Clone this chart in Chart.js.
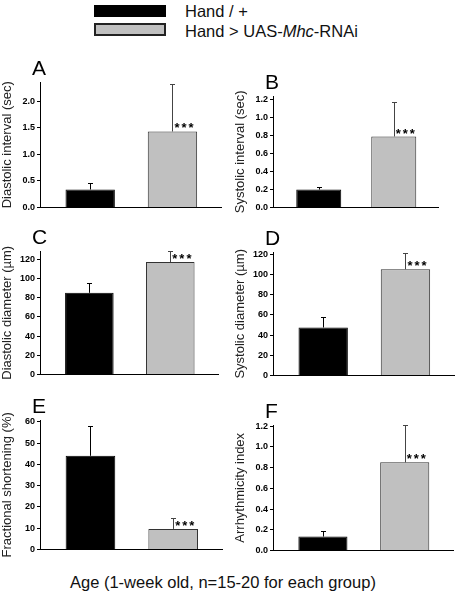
<!DOCTYPE html>
<html>
<head>
<meta charset="utf-8">
<script src="https://cdn.jsdelivr.net/npm/chart.js@4/dist/chart.umd.min.js"></script>
<style>
    body {
        margin: 0;
        width: 457px;
        height: 595px;
        position: relative;
        overflow: hidden;
        background: #fff;
        font-family: Arial, "Liberation Sans", sans-serif;
        color: #111;
    }
    canvas { position: absolute; }
    .swatch { position: absolute; left: 94px; width: 72px; box-sizing: border-box; }
    .legendText { position: absolute; left: 185px; font-size: 16.5px; line-height: 16px; white-space: nowrap; }
    #xLabel { position: absolute; left: 70px; top: 574px; font-size: 16.5px; line-height: 16px; white-space: nowrap; }
</style>
</head>
<body>

<div class="swatch" style="top:5px;height:12px;background:#000;"></div>
<div class="swatch" style="top:23px;height:13px;background:#c0c0c0;border:2px solid #222;"></div>
<div class="legendText" style="top:3px;">Hand / +</div>
<div class="legendText" style="top:23px;">Hand &gt; UAS-<i>Mhc</i>-RNAi</div>

<canvas id="chartA" width="228" height="160" style="left:0;top:55px;"></canvas>
<canvas id="chartB" width="224" height="160" style="left:233px;top:55px;"></canvas>
<canvas id="chartC" width="228" height="162" style="left:0;top:220px;"></canvas>
<canvas id="chartD" width="224" height="163" style="left:233px;top:220px;"></canvas>
<canvas id="chartE" width="228" height="172" style="left:0;top:385px;"></canvas>
<canvas id="chartF" width="224" height="173" style="left:233px;top:385px;"></canvas>

<div id="xLabel">Age (1-week old, n=15-20 for each group)</div>

<script>
// two genotypes, same order in every panel
const groups = ['Hand / +', 'Hand > UAS-Mhc-RNAi'];
const significance = ['', '***'];

const diastolicInterval = [0.34, 1.43];
const diastolicIntervalErr = [0.12, 0.89];
const systolicInterval = [0.20, 0.79];
const systolicIntervalErr = [0.03, 0.38];
const diastolicDiameter = [85, 117];
const diastolicDiameterErr = [10.5, 11];
const systolicDiameter = [47.5, 105];
const systolicDiameterErr = [10.5, 16];
const fractionalShortening = [44, 9.7];
const fractionalShorteningErr = [14, 4.9];
const arrhythmicityIndex = [0.135, 0.85];
const arrhythmicityIndexErr = [0.055, 0.36];

const barFill = ['#000000', '#c0c0c0'];
const barEdge = ['#000000', '#333333'];
const whiskerColor = ['#000000', '#444444'];

const errorBars = {
    id: 'errorBars',
    afterDatasetsDraw(chart) {
        const ctx = chart.ctx;
        const y = chart.scales.y;
        const ds = chart.data.datasets[0];
        chart.getDatasetMeta(0).data.forEach((bar, i) => {
            const x = Math.round(bar.x) + 0.5;
            const top = Math.round(y.getPixelForValue(ds.data[i].y + ds.err[i])) + 0.5;
            ctx.save();
            ctx.strokeStyle = whiskerColor[i];
            ctx.lineWidth = 1;
            ctx.beginPath();
            ctx.moveTo(x, bar.y);
            ctx.lineTo(x, top);
            ctx.moveTo(x - 2.5, top);
            ctx.lineTo(x + 2.5, top);
            ctx.stroke();
            if (significance[i]) {
                ctx.fillStyle = '#000';
                ctx.font = 'bold 13px Arial';
                ctx.letterSpacing = '2px';
                ctx.textAlign = 'left';
                ctx.textBaseline = 'alphabetic';
                ctx.fillText(significance[i], bar.x + 2, bar.y + 1);
            }
            ctx.restore();
        });
    }
};

const panelLetter = {
    id: 'panelLetter',
    afterDraw(chart, args, opts) {
        const ctx = chart.ctx;
        const area = chart.chartArea;
        ctx.save();
        ctx.fillStyle = '#000';
        ctx.font = '21px Arial';
        ctx.textAlign = 'left';
        ctx.textBaseline = 'alphabetic';
        ctx.fillText(opts.text, area.left - 8, area.top - 7);
        ctx.restore();
    }
};

function makePanel(id, letter, title, means, errs, yMax, step, decimals, pad) {
    new Chart(document.getElementById(id), {
        type: 'bar',
        data: {
            datasets: [{
                data: means.map((v, i) => ({x: i + 1, y: v})),
                err: errs,
                backgroundColor: barFill,
                borderColor: barEdge,
                borderWidth: 1,
                barPercentage: 0.6,
                categoryPercentage: 1
            }]
        },
        options: {
            responsive: false,
            animation: false,
            events: [],
            layout: {padding: {top: pad[0], right: pad[1], bottom: pad[2], left: 0}},
            plugins: {
                legend: {display: false},
                tooltip: {enabled: false},
                panelLetter: {text: letter}
            },
            scales: {
                x: {
                    type: 'linear',
                    offset: false,
                    min: 0.39,
                    max: 2.59,
                    afterBuildTicks: s => { s.ticks = groups.map((g, i) => ({value: i + 1})); },
                    afterFit: s => { s.height = 0; },
                    ticks: {display: false},
                    grid: {display: false},
                    border: {color: '#000', width: 1}
                },
                y: {
                    min: 0,
                    max: yMax,
                    afterFit: s => { s.width = 40; },
                    ticks: {
                        stepSize: step,
                        includeBounds: false,
                        padding: 2,
                        color: '#000',
                        font: {family: 'Arial', size: 9, weight: 'bold'},
                        callback: v => v.toFixed(decimals)
                    },
                    grid: {drawOnChartArea: false, tickLength: 3, tickColor: '#000'},
                    border: {color: '#000', width: 1},
                    title: {
                        display: true,
                        text: title,
                        color: '#222',
                        font: {family: 'Arial', size: 13},
                        padding: {top: 0, bottom: 0}
                    }
                }
            }
        },
        plugins: [errorBars, panelLetter]
    });
}

makePanel('chartA', 'A', 'Diastolic interval (sec)', diastolicInterval, diastolicIntervalErr, 2.36, 0.5, 1, [27, 7, 5]);
makePanel('chartB', 'B', 'Systolic interval (sec)', systolicInterval, systolicIntervalErr, 1.24, 0.2, 1, [41, 19, 5]);
makePanel('chartC', 'C', 'Diastolic diameter (\u00b5m)', diastolicDiameter, diastolicDiameterErr, 128.5, 20, 0, [31, 10, 5]);
makePanel('chartD', 'D', 'Systolic diameter (\u00b5m)', systolicDiameter, systolicDiameterErr, 122, 20, 0, [32, 3, 5]);
makePanel('chartE', 'E', 'Fractional shortening (%)', fractionalShortening, fractionalShorteningErr, 60.8, 10, 0, [35, 6, 5]);
makePanel('chartF', 'F', 'Arrhythmicity index', arrhythmicityIndex, arrhythmicityIndexErr, 1.21, 0.2, 1, [40, 4, 5]);
</script>
</body>
</html>
